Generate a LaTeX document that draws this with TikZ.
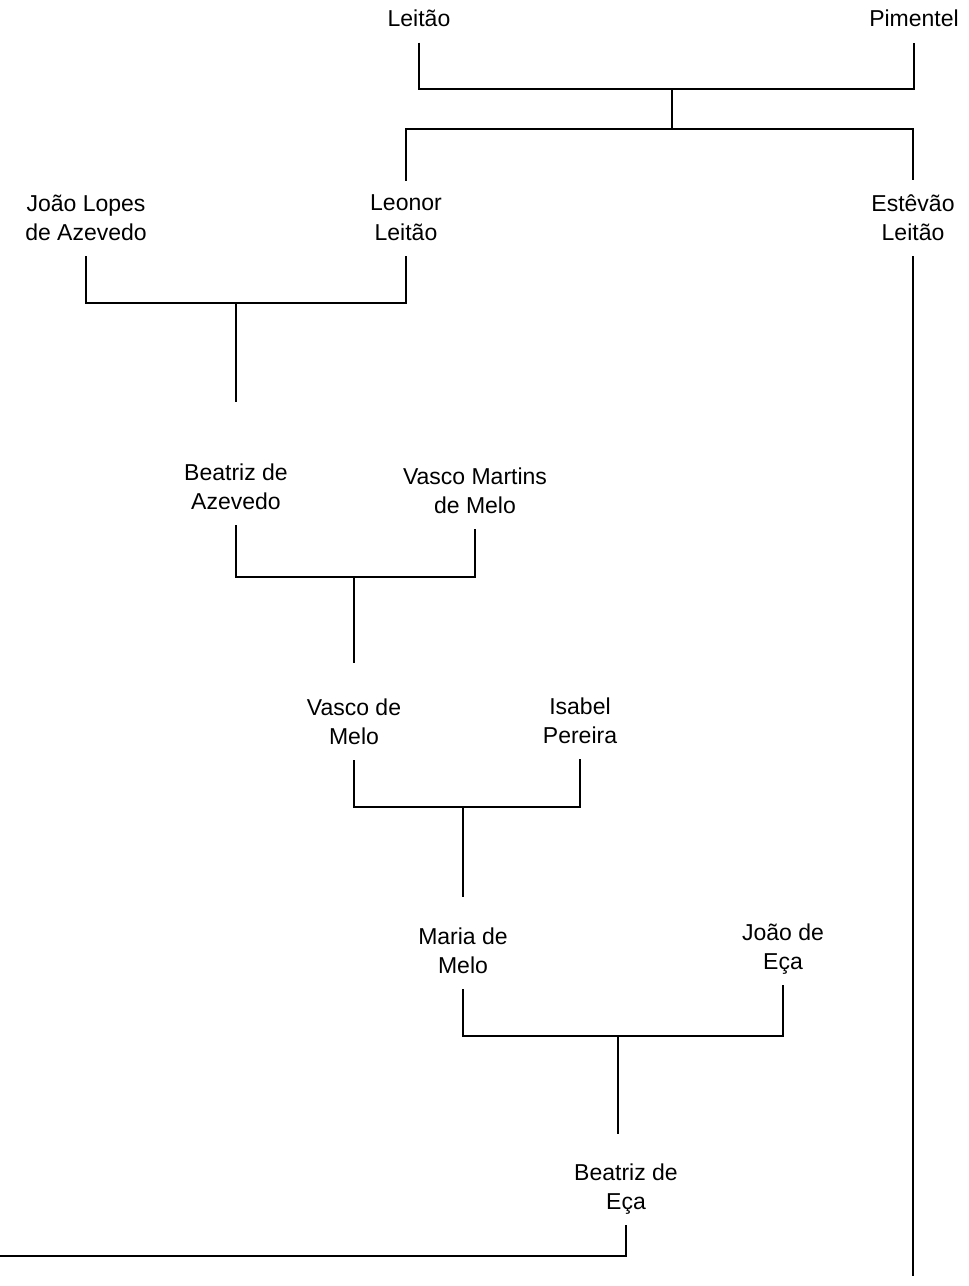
\documentclass[tikz,border=0pt]{standalone}
\usepackage{fontspec}
\setmainfont{Liberation Sans}
\usetikzlibrary{calc}

\begin{document}
\begin{tikzpicture}[x=0.75pt, y=-0.75pt,
    person/.style={align=center, inner sep=0pt, font={\fontsize{17.25}{22}\selectfont},
      execute at begin node=\strut, execute at end node=\strut},
    link/.style={line width=0.9pt},
    couple/.style={link, shorten <=5pt, shorten >=5pt},
    sibs/.style={link, shorten <=10.5pt, shorten >=10.5pt}]
  \useasboundingbox (0,0) rectangle (969,1286);
  \node[person] (leitao)   at (419,21)  {Leitão};
  \node[person] (pimentel) at (914,21)  {Pimentel};
  \node[person] (jla)      at (86,222)  {João Lopes\\de Azevedo};
  \node[person] (leonor)   at (406,222) {Leonor\\Leitão};
  \node[person] (estevao)  at (913,222) {Estêvão\\Leitão};
  \node[person] (beatrizA) at (236,491) {Beatriz de\\Azevedo};
  \node[person] (vascoMM)  at (475,495) {Vasco Martins\\de Melo};
  \node[person] (vascoM)   at (354,726) {Vasco de\\Melo};
  \node[person] (isabel)   at (580,725) {Isabel\\Pereira};
  \node[person] (maria)    at (463,955) {Maria de\\Melo};
  \node[person] (joaoE)    at (783,951) {João de\\Eça};
  \node[person] (beatrizE) at (626,1191) {Beatriz de\\Eça};
  \coordinate (u1) at (672,89);  \coordinate (s1) at (672,129);
  \coordinate (u2) at (0,303);   \coordinate (d2) at (236,402);
  \coordinate (u3) at (0,577);   \coordinate (d3) at (354,663);
  \coordinate (u4) at (0,807);   \coordinate (d4) at (463,897);
  \coordinate (u5) at (0,1036);  \coordinate (d5) at (618,1134);
  \coordinate (e1) at (913,1276); \coordinate (e0) at (0,1256);
  \draw[couple] (leitao.south) -- (leitao.south |- u1) -- (pimentel.south |- u1) -- (pimentel.south);
  \draw[link] (u1) -- (s1);
  \draw[sibs] (leonor.north) -- (leonor.north |- s1) -- (estevao.north |- s1) -- (estevao.north);
  \draw[link, shorten <=5pt] (estevao.south) -- (e1);
  \draw[couple] (jla.south) -- (jla.south |- u2) -- (leonor.south |- u2) -- (leonor.south);
  \draw[link] (d2 |- u2) -- (d2);
  \draw[couple] (beatrizA.south) -- (beatrizA.south |- u3) -- (vascoMM.south |- u3) -- (vascoMM.south);
  \draw[link] (d3 |- u3) -- (d3);
  \draw[couple] (vascoM.south) -- (vascoM.south |- u4) -- (isabel.south |- u4) -- (isabel.south);
  \draw[link] (d4 |- u4) -- (d4);
  \draw[couple] (maria.south) -- (maria.south |- u5) -- (joaoE.south |- u5) -- (joaoE.south);
  \draw[link] (d5 |- u5) -- (d5);
  \draw[link, shorten <=5pt] (beatrizE.south) -- (beatrizE.south |- e0) -- (e0);
\end{tikzpicture}
\end{document}
